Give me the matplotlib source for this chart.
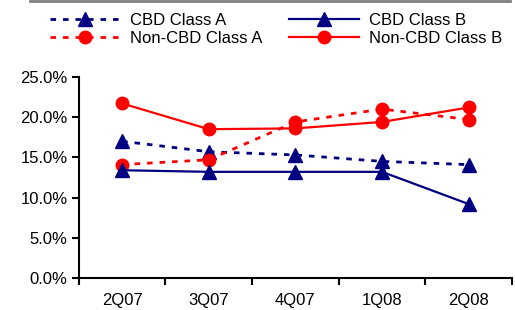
"""Vacancy rates by class, CBD vs Non-CBD."""
import matplotlib
matplotlib.use("Agg")
import matplotlib.pyplot as plt
from matplotlib.lines import Line2D
from matplotlib.ticker import FuncFormatter, MultipleLocator

plt.rcParams["font.family"] = ["Liberation Sans", "DejaVu Sans"]

quarters = ["2Q07", "3Q07", "4Q07", "1Q08", "2Q08"]
cbd_a = [17.0, 15.7, 15.3, 14.5, 14.1]
cbd_b = [13.4, 13.2, 13.2, 13.2, 9.2]
noncbd_a = [14.1, 14.7, 19.4, 21.0, 19.7]
noncbd_b = [21.7, 18.5, 18.6, 19.4, 21.2]

NAVY = "#000080"
RED = "#FF0000"
dotted = (0, (2, 2.5))

fig = plt.figure(figsize=(5.15, 3.1), dpi=100)
ax = fig.add_axes([0.153, 0.103, 0.841, 0.649])

x = range(len(quarters))
ax.plot(x, cbd_a, color=NAVY, lw=2, ls=dotted, marker="^", ms=10, label="CBD Class A")
ax.plot(x, noncbd_a, color=RED, lw=2, ls=dotted, marker="o", ms=9, label="Non-CBD Class A")
ax.plot(x, cbd_b, color=NAVY, lw=1.6, marker="^", ms=10, label="CBD Class B")
ax.plot(x, noncbd_b, color=RED, lw=1.6, marker="o", ms=9, label="Non-CBD Class B")

ax.set_xlim(-0.5, len(quarters) - 0.5)
ax.set_ylim(0, 25)
ax.yaxis.set_major_locator(MultipleLocator(5))
ax.yaxis.set_major_formatter(FuncFormatter(lambda v, p: f"{v:.1f}%"))
ax.set_xticks([i + 0.5 for i in range(-1, len(quarters))])
ax.set_xticklabels([])
ax.set_xticks(list(x), minor=True)
ax.set_xticklabels(quarters, minor=True)
ax.tick_params(axis="x", which="minor", length=0, pad=11, labelsize=12)
ax.tick_params(axis="x", which="major", length=5, width=1.5, direction="out")
ax.tick_params(axis="y", length=5, width=1.5, direction="out", labelsize=12, pad=3)
for s in ["top", "right"]:
    ax.spines[s].set_visible(False)
for s in ["left", "bottom"]:
    ax.spines[s].set_linewidth(1.5)

handles, labels = ax.get_legend_handles_labels()
fig.legend(handles, labels, ncol=2, frameon=False, loc="upper left",
           bbox_to_anchor=(0.072, 1.0), fontsize=12, handlelength=4.2,
           handletextpad=0.6, columnspacing=1.6, labelspacing=0.15,
           borderaxespad=0.4)

fig.add_artist(Line2D([30 / 515, 510 / 515], [0.997, 0.997], color="#808080", lw=2))

fig.savefig("out.png")
